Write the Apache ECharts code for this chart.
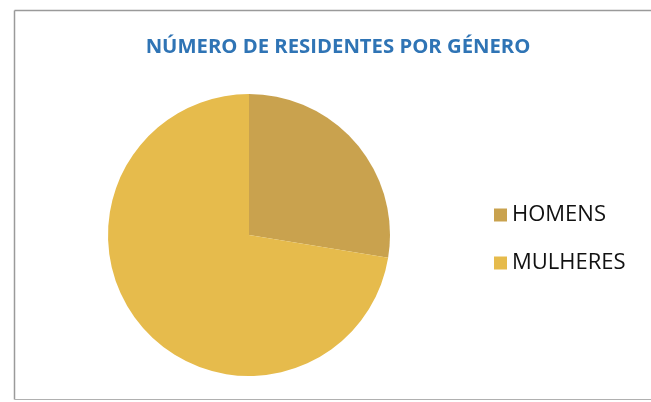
<!DOCTYPE html>
<html>
<head>
<meta charset="utf-8">
<script src="https://cdn.jsdelivr.net/npm/echarts@6/dist/echarts.min.js"></script>
<style>
  html, body { margin: 0; padding: 0; background: #fff; }
  #chart { width: 651px; height: 402px; }
</style>
</head>
<body>
<div id="chart"></div>
<script>
// Residents by gender
const categories = ['HOMENS', 'MULHERES'];
const values = [8, 21];
const colors = ['#c9a24e', '#e6bb4c'];

const chart = echarts.init(document.getElementById('chart'));

chart.setOption({
  backgroundColor: '#ffffff',
  animation: false,
  title: {
    text: 'NÚMERO DE RESIDENTES POR GÉNERO',
    left: 333,
    textAlign: 'center',
    top: 32,
    textStyle: {
      fontFamily: 'Open Sans',
      fontWeight: 'bold',
      fontSize: 20.3,
      color: '#2f74b5'
    }
  },
  legend: {
    orient: 'vertical',
    left: 489,
    top: 199,
    itemWidth: 13,
    itemHeight: 13,
    itemGap: 26,
    icon: 'rect',
    textStyle: {
      fontFamily: 'Open Sans',
      fontSize: 22,
      color: '#111111',
      padding: [0, 0, 0, 0]
    },
    data: categories
  },
  graphic: [
    {
      type: 'line',
      shape: { x1: 14.5, y1: 10.5, x2: 651, y2: 10.5 },
      style: { stroke: '#9a9a9a', lineWidth: 1.5 }
    },
    {
      type: 'line',
      shape: { x1: 14.5, y1: 10.5, x2: 14.5, y2: 399.5 },
      style: { stroke: '#9a9a9a', lineWidth: 1.5 }
    },
    {
      type: 'line',
      shape: { x1: 14.5, y1: 399.5, x2: 651, y2: 399.5 },
      style: { stroke: '#b0b0b0', lineWidth: 1.2 }
    }
  ],
  series: [{
    type: 'pie',
    center: [249, 235],
    radius: 141,
    startAngle: 90,
    clockwise: true,
    label: { show: false },
    labelLine: { show: false },
    itemStyle: { borderWidth: 0 },
    data: categories.map((name, i) => ({
      name,
      value: values[i],
      itemStyle: { color: colors[i] }
    }))
  }]
});
</script>
</body>
</html>
